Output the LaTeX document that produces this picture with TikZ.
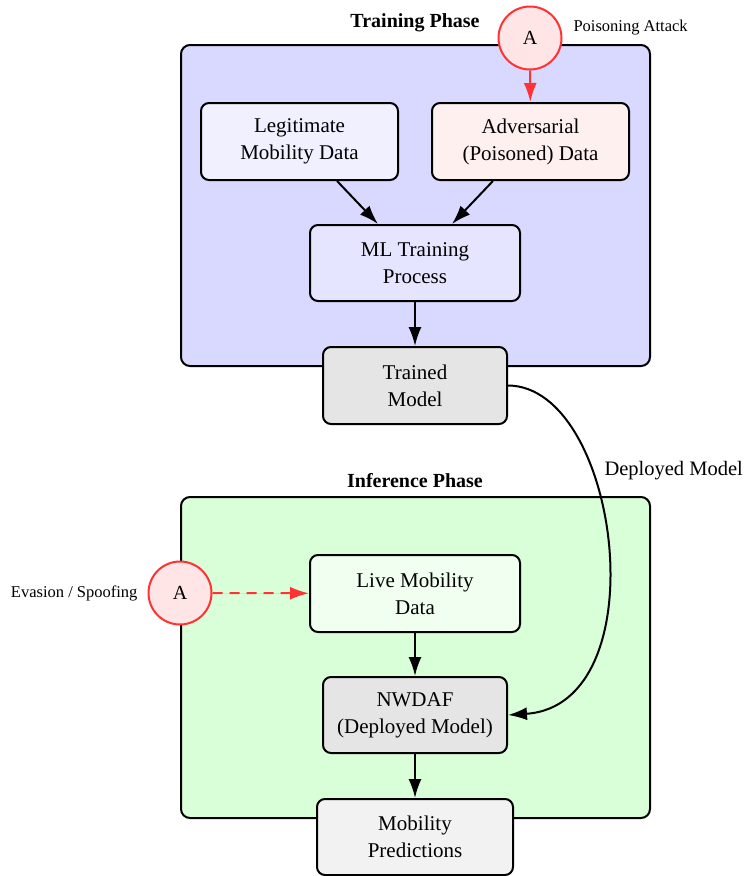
\documentclass[tikz,border=0pt]{standalone}
\usepackage{fontspec}
\setmainfont{Liberation Serif}
\usetikzlibrary{arrows.meta}
\definecolor{trainfill}{HTML}{D9D9FF}
\definecolor{inffill}{HTML}{D9FFD9}
\definecolor{legitfill}{HTML}{F0F0FF}
\definecolor{advfill}{HTML}{FFF0F0}
\definecolor{mlfill}{HTML}{E5E5FF}
\definecolor{grayfill}{HTML}{E5E5E5}
\definecolor{livefill}{HTML}{F0FFF0}
\definecolor{predfill}{HTML}{F2F2F2}
\definecolor{atkred}{HTML}{FF3333}
\definecolor{atkfill}{HTML}{FFE5E5}
\begin{document}
\begin{tikzpicture}[x=1pt,y=-1pt,
  box/.style={draw=black, line width=2pt, rounded corners=8pt, align=center, inner sep=0pt,
    font=\fontsize{21}{27}\selectfont},
  phase/.style={draw=black, line width=2pt, rounded corners=9pt, inner sep=0pt},
  phasetitle/.style={font=\fontsize{20}{24}\selectfont\bfseries},
  attack/.style={circle, draw=atkred, fill=atkfill, line width=2pt, minimum size=63pt, inner sep=0pt,
    font=\fontsize{20}{24}\selectfont},
  smalllabel/.style={font=\fontsize{16.5}{20}\selectfont},
  arr/.style={-{Latex[length=19pt,width=13pt]}, line width=2pt},
  redarr/.style={-{Latex[length=19pt,width=13pt]}, line width=2pt, draw=atkred, fill=atkred}
]
\useasboundingbox (0,0) rectangle (750,876);

% phase containers
\node[phase, fill=trainfill, minimum width=469pt, minimum height=321pt] (train) at (415.5,205.5) {};
\node[phase, fill=inffill, minimum width=469pt, minimum height=321pt] (inf) at (415.5,657.5) {};
\node[phasetitle] (traintitle) at (415,23) {Training Phase};
\node[phasetitle] (inftitle) at (415,481) {Inference Phase};

% training nodes
\node[box, fill=legitfill, minimum width=197pt, minimum height=77pt] (legit) at (299.5,141.5) {Legitimate\\Mobility Data};
\node[box, fill=advfill, minimum width=197pt, minimum height=77pt] (adv) at (530.5,141.5) {Adversarial\\(Poisoned) Data};
\node[box, fill=mlfill, minimum width=210pt, minimum height=76pt] (ml) at (415,263) {ML Training\\Process};
\node[box, fill=grayfill, minimum width=184pt, minimum height=77pt] (trained) at (415,385.5) {Trained\\Model};

% inference nodes
\node[box, fill=livefill, minimum width=210pt, minimum height=77pt] (live) at (415,593.5) {Live Mobility\\Data};
\node[box, fill=grayfill, minimum width=184pt, minimum height=76pt] (nwdaf) at (415,715) {NWDAF\\(Deployed Model)};
\node[box, fill=predfill, minimum width=196pt, minimum height=76pt] (pred) at (415,837) {Mobility\\Predictions};

% attackers
\node[attack] (poison) at (530,38) {A};
\node[smalllabel, anchor=west] (poisonlabel) at (570,28) {Poisoning Attack};
\node[attack] (evasion) at (180,593) {A};
\node[smalllabel, anchor=east] (evasionlabel) at (141,593) {Evasion / Spoofing};

% connectors
\draw[arr] (legit) -- (ml);
\draw[arr] (adv) -- (ml);
\draw[arr] (ml) -- (trained);
\draw[arr] (live) -- (nwdaf);
\draw[arr] (nwdaf) -- (pred);
\draw[redarr] (poison) -- (adv);
\draw[redarr, dash pattern=on 10pt off 7pt] (evasion) -- (live);
\draw[arr] (trained.east) .. controls (620,386) and (660,705) .. (nwdaf.east);
\node[anchor=west, font=\fontsize{20.5}{24}\selectfont] (deplabel) at (601,471) {Deployed Model};
\end{tikzpicture}
\end{document}
